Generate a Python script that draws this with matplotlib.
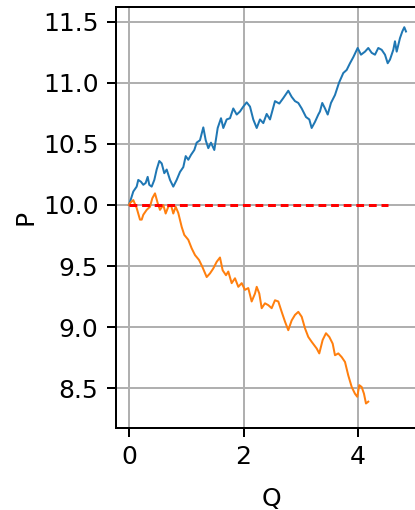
import matplotlib
matplotlib.use("Agg")
import matplotlib.pyplot as plt

# Upward path
q_up = [0.000, 0.035, 0.075, 0.134, 0.162, 0.209, 0.250, 0.291, 0.326, 0.354,
        0.396, 0.442, 0.483, 0.529, 0.571, 0.616, 0.658, 0.716, 0.773, 0.832,
        0.890, 0.948, 0.990, 1.035, 1.082, 1.140, 1.181, 1.239, 1.297, 1.339,
        1.384, 1.431, 1.489, 1.548, 1.606, 1.646, 1.705, 1.763, 1.820, 1.880,
        1.937, 1.995, 2.054, 2.112, 2.169, 2.229, 2.286, 2.344, 2.403, 2.461,
        2.548, 2.623, 2.693, 2.780, 2.839, 2.897, 2.955, 3.014, 3.089, 3.147,
        3.188, 3.246, 3.304, 3.333, 3.373, 3.421, 3.468, 3.525, 3.595, 3.665,
        3.740, 3.799, 3.857, 3.915, 3.991, 4.049, 4.119, 4.176, 4.236, 4.293,
        4.351, 4.410, 4.468, 4.515, 4.555, 4.613, 4.642, 4.672, 4.729, 4.770,
        4.805, 4.834]
p_up = [10.000, 10.050, 10.110, 10.150, 10.205, 10.190, 10.165, 10.180, 10.230, 10.165,
        10.150, 10.205, 10.290, 10.360, 10.340, 10.260, 10.290, 10.205, 10.150, 10.205,
        10.270, 10.310, 10.400, 10.370, 10.410, 10.450, 10.510, 10.530, 10.635, 10.530,
        10.465, 10.510, 10.450, 10.630, 10.710, 10.630, 10.700, 10.710, 10.790, 10.740,
        10.765, 10.805, 10.840, 10.805, 10.700, 10.630, 10.700, 10.670, 10.745, 10.700,
        10.850, 10.830, 10.875, 10.935, 10.885, 10.850, 10.835, 10.790, 10.720, 10.700,
        10.630, 10.680, 10.740, 10.765, 10.835, 10.790, 10.740, 10.835, 10.900, 11.000,
        11.080, 11.105, 11.160, 11.210, 11.285, 11.230, 11.255, 11.285, 11.245, 11.230,
        11.285, 11.270, 11.230, 11.160, 11.190, 11.270, 11.340, 11.255, 11.365, 11.420,
        11.455, 11.420]

# Downward path
q_down = [0.000, 0.017, 0.075, 0.134, 0.192, 0.222, 0.250, 0.309, 0.366, 0.407,
          0.454, 0.501, 0.541, 0.599, 0.640, 0.686, 0.733, 0.773, 0.815, 0.860,
          0.920, 0.965, 1.035, 1.094, 1.152, 1.222, 1.279, 1.356, 1.414, 1.471,
          1.531, 1.588, 1.635, 1.693, 1.733, 1.792, 1.850, 1.908, 1.967, 2.024,
          2.082, 2.141, 2.199, 2.229, 2.274, 2.316, 2.373, 2.431, 2.490, 2.548,
          2.606, 2.665, 2.723, 2.780, 2.839, 2.897, 2.955, 3.014, 3.072, 3.129,
          3.188, 3.276, 3.321, 3.380, 3.438, 3.496, 3.555, 3.595, 3.653, 3.712,
          3.770, 3.827, 3.887, 3.944, 3.984, 4.019, 4.061, 4.101, 4.136, 4.176]
p_down = [10.000, 10.015, 10.040, 9.975, 9.880, 9.880, 9.920, 9.960, 9.985, 10.055,
          10.095, 10.015, 9.960, 10.000, 9.930, 9.985, 10.000, 9.930, 9.985, 9.935,
          9.820, 9.755, 9.715, 9.645, 9.590, 9.550, 9.495, 9.410, 9.440, 9.480,
          9.535, 9.570, 9.465, 9.425, 9.455, 9.360, 9.400, 9.330, 9.360, 9.305,
          9.320, 9.210, 9.275, 9.330, 9.275, 9.155, 9.195, 9.180, 9.155, 9.220,
          9.210, 9.125, 9.045, 8.975, 9.055, 9.100, 9.125, 9.085, 8.990, 8.920,
          8.880, 8.825, 8.785, 8.895, 8.950, 8.920, 8.865, 8.770, 8.785, 8.755,
          8.715, 8.605, 8.510, 8.455, 8.430, 8.525, 8.510, 8.455, 8.375, 8.390]

# Reference level
level = 10.0
level_span = [0.0, 4.52]

yticks = [8.5, 9.0, 9.5, 10.0, 10.5, 11.0, 11.5]
xticks = [0, 2, 4]

fig = plt.figure(figsize=(416 / 180, 510 / 180), dpi=180)
ax = fig.add_axes([0.2788, 0.1614, 0.7475, 0.8255])

ax.plot(q_up, p_up, color="#1f77b4", lw=0.8)
ax.plot(q_down, p_down, color="#ff7f0e", lw=0.8)
ax.plot(level_span, [level, level], color="red", lw=1.2, dashes=(2.6, 1.6))

ax.set_xlim(-0.227, 5.2)
ax.set_ylim(8.177, 11.623)
ax.set_xticks(xticks)
ax.set_yticks(yticks)
ax.grid(True)
ax.set_xlabel("Q", labelpad=7)
ax.set_ylabel("P", labelpad=2)

fig.savefig("out.png", dpi=180)
